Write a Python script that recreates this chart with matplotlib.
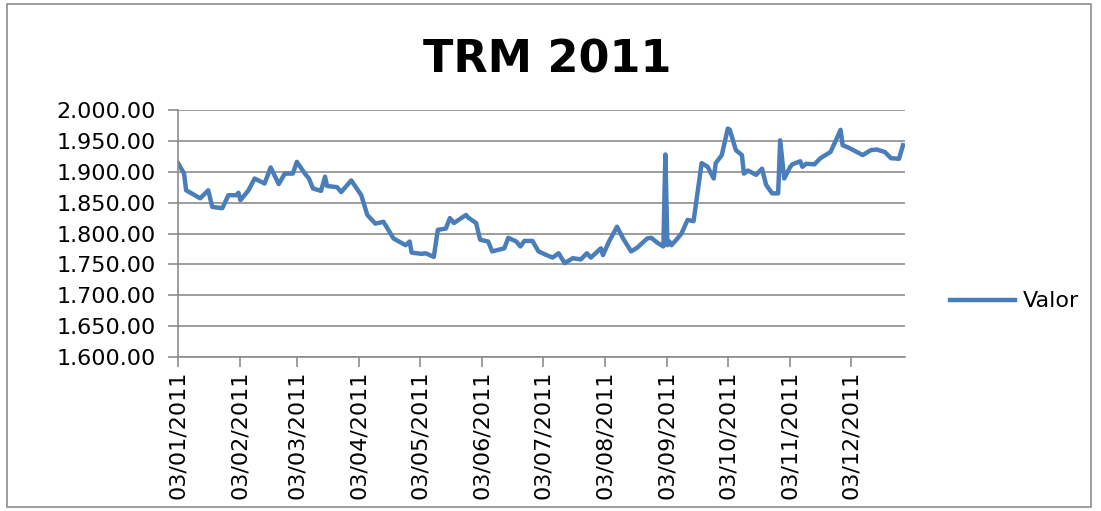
import numpy as np
import pandas as pd
import matplotlib
matplotlib.use("Agg")
import matplotlib.pyplot as plt
import matplotlib.dates as mdates
from matplotlib.patches import Rectangle
from matplotlib.ticker import FuncFormatter

# TRM 2011
fechas = [
    "2011-01-03", "2011-01-06", "2011-01-07", "2011-01-14", "2011-01-18", "2011-01-20",
    "2011-01-25", "2011-01-28", "2011-02-01", "2011-02-02", "2011-02-03", "2011-02-07",
    "2011-02-10", "2011-02-15", "2011-02-18", "2011-02-22", "2011-02-25", "2011-03-01",
    "2011-03-03", "2011-03-07", "2011-03-09", "2011-03-11", "2011-03-15", "2011-03-17",
    "2011-03-18", "2011-03-23", "2011-03-25", "2011-03-30", "2011-04-04", "2011-04-07",
    "2011-04-11", "2011-04-15", "2011-04-20", "2011-04-26", "2011-04-28", "2011-04-29",
    "2011-05-04", "2011-05-06", "2011-05-10", "2011-05-12", "2011-05-16", "2011-05-18",
    "2011-05-20", "2011-05-26", "2011-05-27", "2011-05-31", "2011-06-02", "2011-06-06",
    "2011-06-08", "2011-06-14", "2011-06-16", "2011-06-20", "2011-06-22", "2011-06-24",
    "2011-06-28", "2011-07-01", "2011-07-05", "2011-07-08", "2011-07-11", "2011-07-14",
    "2011-07-18", "2011-07-22", "2011-07-25", "2011-07-27", "2011-08-01", "2011-08-02",
    "2011-08-05", "2011-08-09", "2011-08-12", "2011-08-16", "2011-08-19", "2011-08-24",
    "2011-08-26", "2011-08-29", "2011-09-01", "2011-09-02", "2011-09-03", "2011-09-04",
    "2011-09-05", "2011-09-08", "2011-09-10", "2011-09-13", "2011-09-16", "2011-09-20",
    "2011-09-23", "2011-09-26", "2011-09-27", "2011-09-30", "2011-10-03", "2011-10-04",
    "2011-10-07", "2011-10-10", "2011-10-11", "2011-10-13", "2011-10-17", "2011-10-20",
    "2011-10-22", "2011-10-25", "2011-10-28", "2011-10-29", "2011-10-31", "2011-11-03",
    "2011-11-04", "2011-11-08", "2011-11-09", "2011-11-11", "2011-11-15", "2011-11-18",
    "2011-11-23", "2011-11-25", "2011-11-28", "2011-11-29", "2011-12-02", "2011-12-09",
    "2011-12-13", "2011-12-16", "2011-12-20", "2011-12-23", "2011-12-27", "2011-12-29",
]
valor = [
    1914, 1897, 1870, 1857, 1870, 1843,
    1841, 1862, 1862, 1866, 1854, 1870,
    1889, 1881, 1907, 1880, 1897, 1897,
    1916, 1897, 1889, 1873, 1869, 1892,
    1877, 1875, 1867, 1886, 1862, 1830,
    1816, 1819, 1792, 1781, 1787, 1769,
    1767, 1768, 1762, 1806, 1808, 1825,
    1817, 1830, 1826, 1817, 1790, 1787,
    1771, 1776, 1793, 1787, 1779, 1788,
    1788, 1771, 1765, 1761, 1768, 1752,
    1760, 1758, 1768, 1761, 1776, 1765,
    1787, 1811, 1792, 1771, 1777, 1792,
    1793, 1785, 1779, 1928, 1781, 1787,
    1781, 1792, 1800, 1822, 1820, 1914,
    1908, 1889, 1914, 1927, 1970, 1968,
    1935, 1927, 1897, 1902, 1895, 1905,
    1879, 1865, 1865, 1951, 1889, 1908,
    1912, 1917, 1908, 1913, 1912, 1922,
    1932, 1946, 1968, 1943, 1939, 1927,
    1935, 1936, 1932, 1922, 1921, 1943,
]
y_ticks = [1600, 1650, 1700, 1750, 1800, 1850, 1900, 1950, 2000]
x_ticks = pd.date_range("2011-01-01", periods=12, freq="MS") + pd.Timedelta(days=2)

dates = pd.to_datetime(fechas)

fig = plt.figure(figsize=(11.01, 5.11), dpi=100)
ax = fig.add_axes([0.1617, 0.3014, 0.6603, 0.4833])

ax.plot(dates, valor, color="#4a7ebb", lw=3.2, label="Valor", solid_joinstyle="round")

ax.set_ylim(1600, 2000)
ax.set_yticks(y_ticks)
ax.yaxis.set_major_formatter(FuncFormatter(lambda v, p: f"{v:,.2f}".replace(",", ".")))
ax.set_xlim(pd.Timestamp("2011-01-03"), pd.Timestamp("2011-12-30"))
ax.set_xticks(x_ticks)
ax.xaxis.set_major_formatter(mdates.DateFormatter("%d/%m/%Y"))

ax.grid(axis="y", color="#8c8c8c", lw=1.2)
ax.set_axisbelow(True)
for s in ["top", "right"]:
    ax.spines[s].set_visible(False)
for s in ["left", "bottom"]:
    ax.spines[s].set_color("#8c8c8c")
    ax.spines[s].set_linewidth(1.2)
ax.tick_params(axis="both", color="#8c8c8c", length=7, width=1.2)
ax.tick_params(axis="y", labelsize=16, pad=9)
ax.tick_params(axis="x", labelsize=16, labelrotation=90, pad=3)

fig.text(0.497, 0.882, "TRM 2011", ha="center", va="center",
         fontsize=32, fontweight="bold")

fig.legend(loc="center left", bbox_to_anchor=(0.845, 0.41), frameon=False,
           fontsize=16, handlelength=2.9, handletextpad=0.35)

fig.patches.append(Rectangle((0.006, 0.008), 0.985, 0.985, transform=fig.transFigure,
                             fill=False, edgecolor="#8c8c8c", lw=1.2))

fig.savefig("out.png", dpi=100)
